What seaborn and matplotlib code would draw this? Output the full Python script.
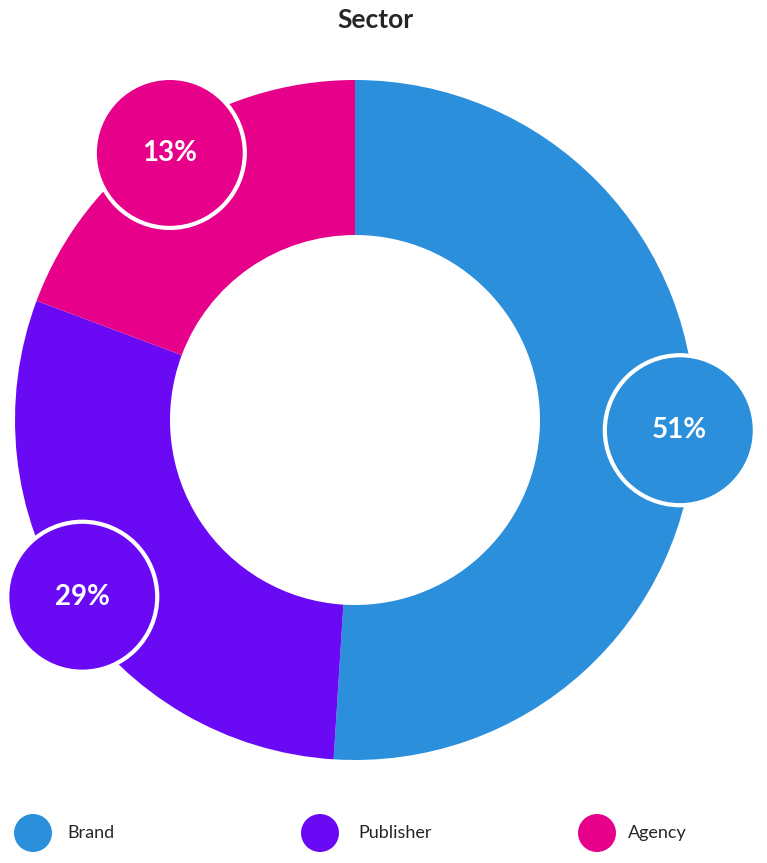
import numpy as np
import matplotlib
matplotlib.use("Agg")
import matplotlib.pyplot as plt
import seaborn as sns

sns.set_theme(style="white")
plt.rcParams['font.family'] = ['Lato', 'DejaVu Sans']

categories = ["Brand", "Publisher", "Agency"]
values = [51, 29.7, 19.3]
labels = ["51%", "29%", "13%"]
colors = ["#2B8FDB", "#6A0AF5", "#E6008A"]

W, H = 767, 863
fig = plt.figure(figsize=(W/100, H/100), dpi=100)
ax = fig.add_axes([0, 0, 1, 1])
ax.set_xlim(0, W); ax.set_ylim(0, H); ax.set_aspect('equal'); ax.axis('off')

cx, cy, R = 355, H-420, 340
ax.pie(values, colors=colors, startangle=90, counterclock=False, center=(cx, cy),
       radius=R, wedgeprops=dict(width=155, edgecolor='none'), frame=True)
ax.set_xlim(0, W); ax.set_ylim(0, H); ax.axis('off')

tot = sum(values)
start = 0
for v, lab, c in zip(values, labels, colors):
    mid = np.deg2rad((start + v/2) / tot * 360)
    start += v
    bx, by = cx + 325*np.sin(mid), cy + 325*np.cos(mid)
    ax.add_patch(plt.Circle((bx, by), 75, facecolor=c, edgecolor='white', lw=3, zorder=5))
    ax.text(bx, by, lab, color='white', fontsize=20, fontweight='bold', ha='center', va='center', zorder=6)

ax.text(375, H-20, "Sector", fontsize=19, fontweight='bold', ha='center', va='center')
for x, tx, lab, c in zip([33, 320, 597], [67, 358, 628], categories, colors):
    ax.add_patch(plt.Circle((x, H-833), 19, facecolor=c, edgecolor='none'))
    ax.text(tx, H-833, lab, fontsize=13, ha='left', va='center')

fig.savefig("out.png", dpi=100)
